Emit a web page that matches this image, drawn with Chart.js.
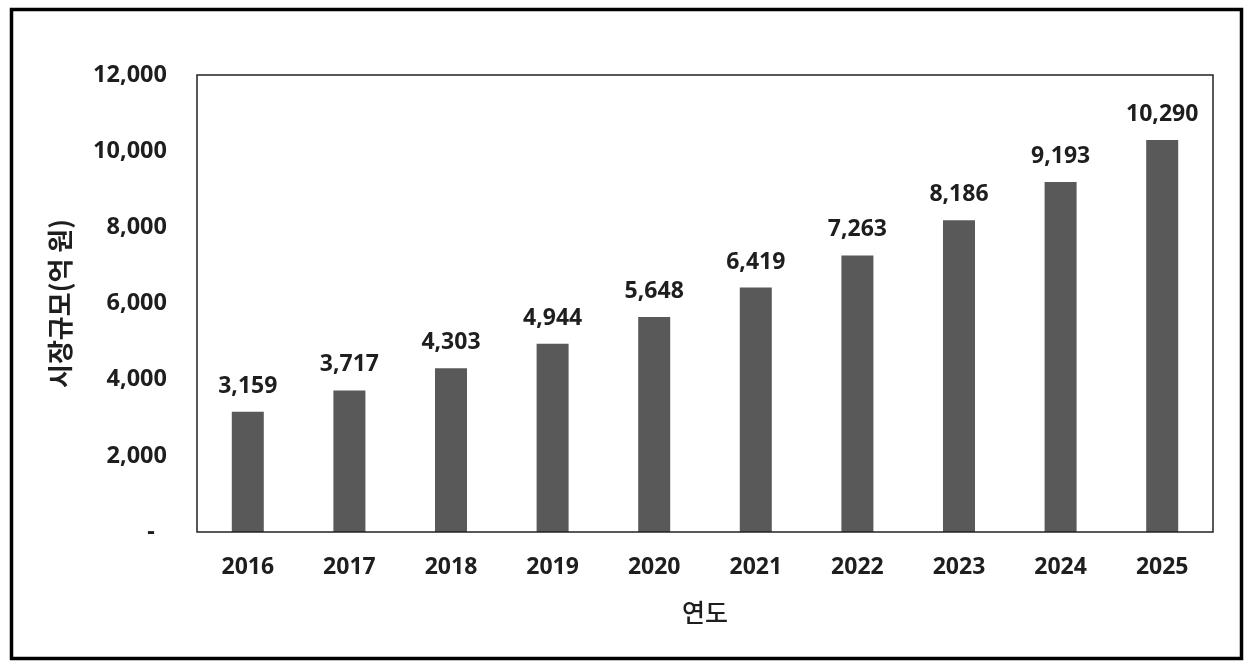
<!DOCTYPE html>
<html>
<head>
<meta charset="utf-8">
<script src="https://cdn.jsdelivr.net/npm/chart.js@4"></script>
<style>
  html, body { margin: 0; padding: 0; background: #fff; }
  #wrap { width: 1252px; height: 669px; }
</style>
</head>
<body>
<div id="wrap"><canvas id="myChart" width="1252" height="669"></canvas></div>
<script>
var years = ['2016', '2017', '2018', '2019', '2020', '2021', '2022', '2023', '2024', '2025'];
var marketSize = [3159, 3717, 4303, 4944, 5648, 6419, 7263, 8186, 9193, 10290];
var yTicks = [0, 2000, 4000, 6000, 8000, 10000, 12000];

var textColor = '#1e1e1e';
var fontFamily = '"Noto Sans", "Noto Sans CJK KR", sans-serif';

function fmt(v) {
    return v === 0 ? '-' : v.toLocaleString('en-US');
}

// frame round the whole picture and box round the plot area
var frames = {
    id: 'frames',
    afterDraw: function (chart) {
        var c = chart.ctx, a = chart.chartArea;
        c.save();
        c.strokeStyle = '#222';
        c.lineWidth = 1.5;
        c.strokeRect(a.left, a.top, a.right - a.left, a.bottom - a.top);
        c.strokeStyle = '#000';
        c.lineWidth = 3.5;
        c.strokeRect(11.5, 9.5, 1230, 649);
        c.restore();
    }
};

// value labels above the bars
var barLabels = {
    id: 'barLabels',
    afterDatasetsDraw: function (chart) {
        var c = chart.ctx;
        var meta = chart.getDatasetMeta(0);
        c.save();
        c.font = 'bold 23px ' + fontFamily;
        c.fillStyle = textColor;
        c.textAlign = 'center';
        c.textBaseline = 'alphabetic';
        meta.data.forEach(function (bar, i) {
            c.fillText(fmt(chart.data.datasets[0].data[i]), bar.x, bar.y - 19);
        });
        c.restore();
    }
};

var ctx = document.getElementById('myChart').getContext('2d');
var myChart = new Chart(ctx, {
    type: 'bar',
    data: {
        labels: years,
        datasets: [{
            label: '시장규모',
            data: marketSize,
            backgroundColor: '#595959',
            barPercentage: 0.315,
            categoryPercentage: 1
        }]
    },
    options: {
        responsive: false,
        animation: false,
        layout: { padding: { left: 0, top: 75, right: 39, bottom: 0 } },
        plugins: {
            legend: { display: false },
            tooltip: { enabled: false }
        },
        scales: {
            x: {
                grid: { display: false, drawTicks: false },
                border: { display: false },
                ticks: {
                    color: textColor,
                    padding: 22,
                    font: { family: fontFamily, size: 23, weight: 'bold' }
                },
                title: {
                    display: true,
                    text: '연도',
                    color: textColor,
                    padding: { top: 0, bottom: 42 },
                    font: { family: '"Noto Sans CJK KR", sans-serif', size: 25, weight: '500' }
                },
                afterFit: function (s) { s.height = 137; }
            },
            y: {
                min: 0,
                max: 12000,
                afterBuildTicks: function (s) {
                    s.ticks = yTicks.map(function (v) { return { value: v }; });
                },
                grid: { display: false, drawTicks: false },
                border: { display: false },
                ticks: {
                    color: textColor,
                    padding: 30,
                    font: { family: fontFamily, size: 23.5, weight: 'bold' },
                    callback: function (v) { return v === 0 ? '-  ' : fmt(v); }
                },
                title: {
                    display: true,
                    text: '시장규모(억 원)',
                    color: textColor,
                    padding: { top: 45, bottom: 0 },
                    font: { family: '"Noto Sans CJK KR", sans-serif', size: 26, weight: 'bold' }
                },
                afterFit: function (s) { s.width = 197; }
            }
        }
    },
    plugins: [frames, barLabels]
});
</script>
</body>
</html>
